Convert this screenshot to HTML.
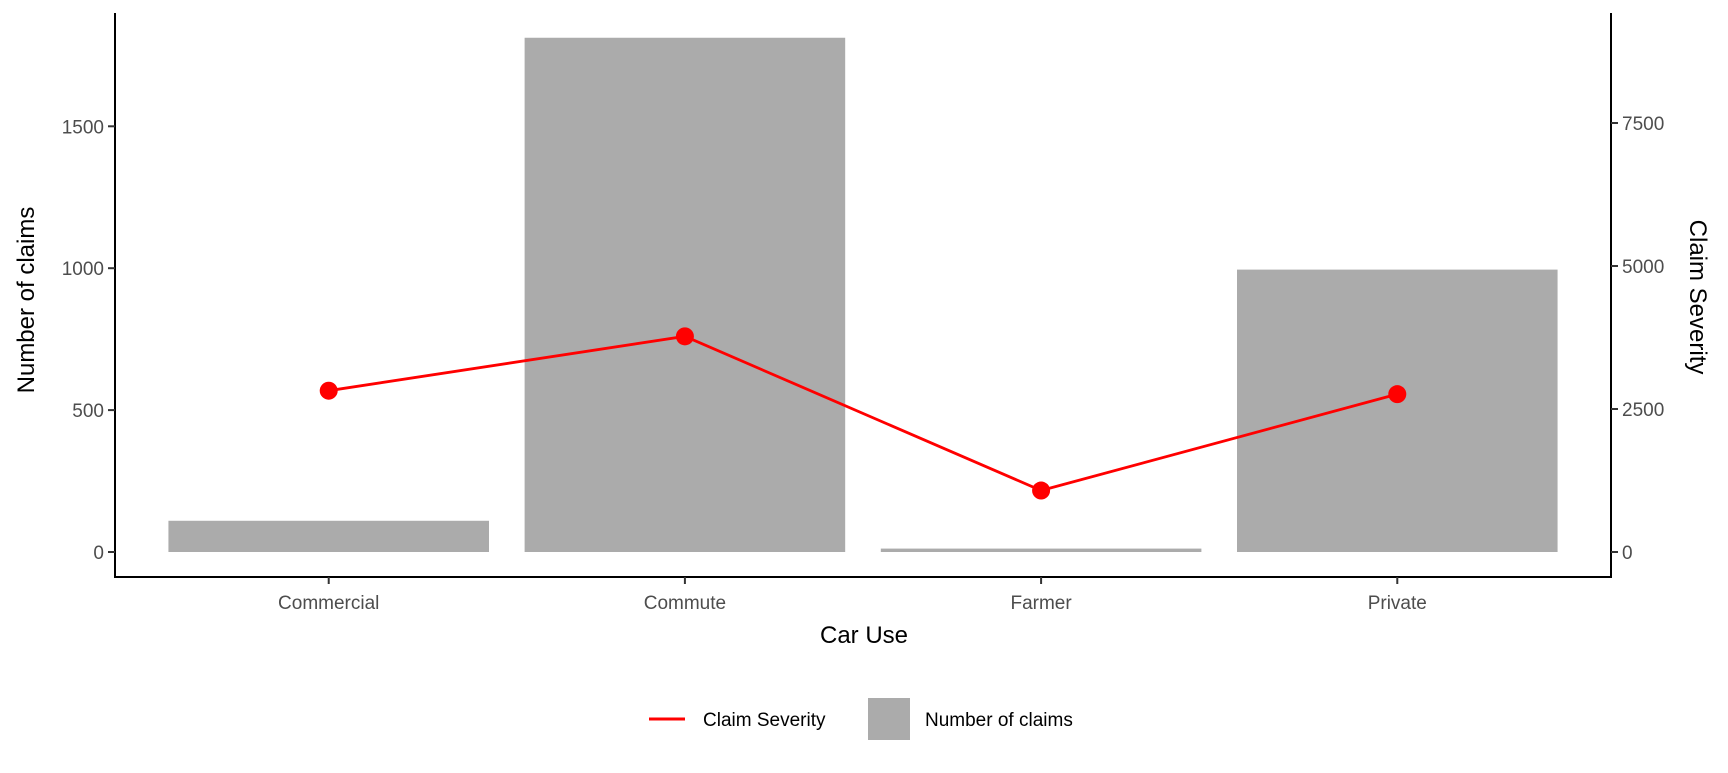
<!DOCTYPE html>
<html><head><meta charset="utf-8"><style>
body{margin:0;background:#fff;}
svg text{font-family:"Liberation Sans",Arial,sans-serif;}
</style></head><body>
<svg id="chart" width="1728" height="768" xmlns="http://www.w3.org/2000/svg">
<g id="bars"></g>
<g id="line"></g>
<g id="axes"></g>
<text x="864" y="643" font-size="24" text-anchor="middle" fill="#000">Car Use</text>
<text transform="translate(34,300) rotate(-90)" font-size="24" text-anchor="middle" fill="#000">Number of claims</text>
<text transform="translate(1690,297) rotate(90)" font-size="24" text-anchor="middle" fill="#000">Claim Severity</text>
<g>
<line x1="649" y1="719" x2="685" y2="719" stroke="#ff0000" stroke-width="3"/>
<text x="703" y="726" font-size="19" fill="#000">Claim Severity</text>
<rect x="868" y="698" width="42" height="42" fill="#ababab"/>
<text x="925" y="726" font-size="19" fill="#000">Number of claims</text>
</g>
</svg>
<script>
const categories=["Commercial","Commute","Farmer","Private"];
const claims=[110,1812,12,995];
const severity=[2820,3770,1075,2760];
const leftTicks=[0,500,1000,1500];
const rightTicks=[0,2500,5000,7500];
const NS="http://www.w3.org/2000/svg";
const L=115,R=1611,T=13,B=577,Y0=552;
const unit=(R-L)/4.2;
function x(i){return L+(i+0.6)*unit;}
function yl(v){return Y0-v*0.2838;}
function yr(v){return Y0-v*0.0572;}
function mk(tag,attrs,parent){const e=document.createElementNS(NS,tag);for(const k in attrs)e.setAttribute(k,attrs[k]);parent.appendChild(e);return e;}
const bars=document.getElementById('bars'),line=document.getElementById('line'),axes=document.getElementById('axes');
categories.forEach((c,i)=>{
  const r=mk('rect',{x:x(i)-unit*0.45,y:yl(claims[i]),width:unit*0.9,height:Y0-yl(claims[i]),fill:'#ababab'},bars);
  
  
});
const pl=mk('polyline',{points:severity.map((v,i)=>x(i)+','+yr(v)).join(' '),fill:'none',stroke:'#ff0000','stroke-width':2.8},line);


severity.forEach((v,i)=>{
  const p=mk('circle',{cx:x(i),cy:yr(v),r:9,fill:'#ff0000'},line);
  
  
});
mk('line',{x1:L,y1:T,x2:L,y2:B+1,stroke:'#000','stroke-width':2},axes);
mk('line',{x1:R,y1:T,x2:R,y2:B+1,stroke:'#000','stroke-width':2},axes);
mk('line',{x1:L-1,y1:B,x2:R+1,y2:B,stroke:'#000','stroke-width':2},axes);
leftTicks.forEach(v=>{
  mk('line',{x1:L-7,y1:yl(v),x2:L,y2:yl(v),stroke:'#333','stroke-width':2},axes);
  const t=mk('text',{x:L-11,y:yl(v)+7,'font-size':19,'text-anchor':'end',fill:'#4d4d4d'},axes);
  t.textContent=v;
  
  
});
rightTicks.forEach(v=>{
  mk('line',{x1:R,y1:yr(v),x2:R+7,y2:yr(v),stroke:'#333','stroke-width':2},axes);
  const t=mk('text',{x:R+11,y:yr(v)+7,'font-size':19,'text-anchor':'start',fill:'#4d4d4d'},axes);
  t.textContent=v;
  
  
});
categories.forEach((c,i)=>{
  mk('line',{x1:x(i),y1:B,x2:x(i),y2:B+7,stroke:'#333','stroke-width':2},axes);
  const t=mk('text',{x:x(i),y:B+32,'font-size':19,'text-anchor':'middle',fill:'#4d4d4d'},axes);
  t.textContent=c;
  
  
});
</script>
</body></html>
